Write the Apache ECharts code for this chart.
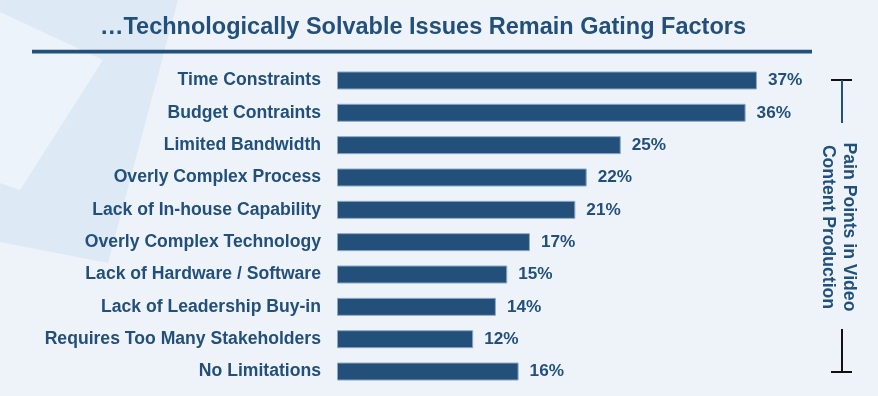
<!DOCTYPE html>
<html>
<head>
<meta charset="utf-8">
<script src="https://cdn.jsdelivr.net/npm/echarts@6/dist/echarts.min.js"></script>
<style>
html,body{margin:0;padding:0;background:#eef3fa;}
#c{width:878px;height:396px;}
</style>
</head>
<body>
<div id="c"></div>
<script>
const categories = [
  "Time Constraints",
  "Budget Contraints",
  "Limited Bandwidth",
  "Overly Complex Process",
  "Lack of In-house Capability",
  "Overly Complex Technology",
  "Lack of Hardware / Software",
  "Lack of Leadership Buy-in",
  "Requires Too Many Stakeholders",
  "No Limitations"
];
const values = [37, 36, 25, 22, 21, 17, 15, 14, 12, 16];
const titleText = "\u2026Technologically Solvable Issues Remain Gating Factors";
const sideLines = ["Pain Points in Video", "Content Production"];

const BLUE = "#22507a";
const FONT = "Liberation Sans, Arial, sans-serif";

const chart = echarts.init(document.getElementById('c'), null, {renderer: 'canvas'});
chart.setOption({
  backgroundColor: "#eef3fa",
  animation: false,
  grid: {left: 337, top: 64.3, width: 454, height: 323.4, containLabel: false},
  xAxis: {
    type: 'value', min: 0, max: 40, show: false
  },
  yAxis: {
    type: 'category', data: categories, inverse: true,
    axisLine: {show: false}, axisTick: {show: false}, splitLine: {show: false},
    axisLabel: {
      margin: 16, color: BLUE, fontFamily: FONT, fontWeight: 'bold', fontSize: 17.6
    }
  },
  series: [{
    type: 'bar', data: values, barWidth: 18,
    itemStyle: {color: BLUE, borderColor: '#8ea7c2', borderWidth: 1},
    label: {
      show: true, position: 'right', distance: 11,
      formatter: p => p.value + '%',
      color: BLUE, fontFamily: FONT, fontWeight: 'bold', fontSize: 17.2
    }
  }],
  graphic: [
    {type: 'polygon', z: -10, silent: true,
     shape: {points: [[0,0],[178,0],[108,263],[0,242]]},
     style: {fill: '#dde9f4'}},
    {type: 'polygon', z: -9, silent: true,
     shape: {points: [[0,12],[103,60],[20,190],[0,183]]},
     style: {fill: '#edf3fa'}},
    {type: 'text', x: 423, y: 28, silent: true,
     style: {text: titleText, fill: BLUE, font: 'bold 23.5px ' + FONT,
             textAlign: 'center', textVerticalAlign: 'middle'}},
    {type: 'rect', silent: true,
     shape: {x: 32, y: 49.8, width: 780, height: 3.6},
     style: {fill: BLUE}},
    {type: 'text', x: 849, y: 227, rotation: -Math.PI / 2, silent: true,
     style: {text: sideLines[0], fill: BLUE, font: 'bold 17.6px ' + FONT,
             textAlign: 'center', textVerticalAlign: 'middle'}},
    {type: 'text', x: 828, y: 227, rotation: -Math.PI / 2, silent: true,
     style: {text: sideLines[1], fill: BLUE, font: 'bold 17.6px ' + FONT,
             textAlign: 'center', textVerticalAlign: 'middle'}},
    {type: 'line', silent: true, shape: {x1: 831, y1: 80, x2: 852, y2: 80},
     style: {stroke: '#111', lineWidth: 2}},
    {type: 'line', silent: true, shape: {x1: 842, y1: 80, x2: 842, y2: 123},
     style: {stroke: BLUE, lineWidth: 2}},
    {type: 'line', silent: true, shape: {x1: 842, y1: 329, x2: 842, y2: 372},
     style: {stroke: '#111', lineWidth: 2}},
    {type: 'line', silent: true, shape: {x1: 831, y1: 372, x2: 852, y2: 372},
     style: {stroke: '#111', lineWidth: 2}}
  ]
});
</script>
</body>
</html>
